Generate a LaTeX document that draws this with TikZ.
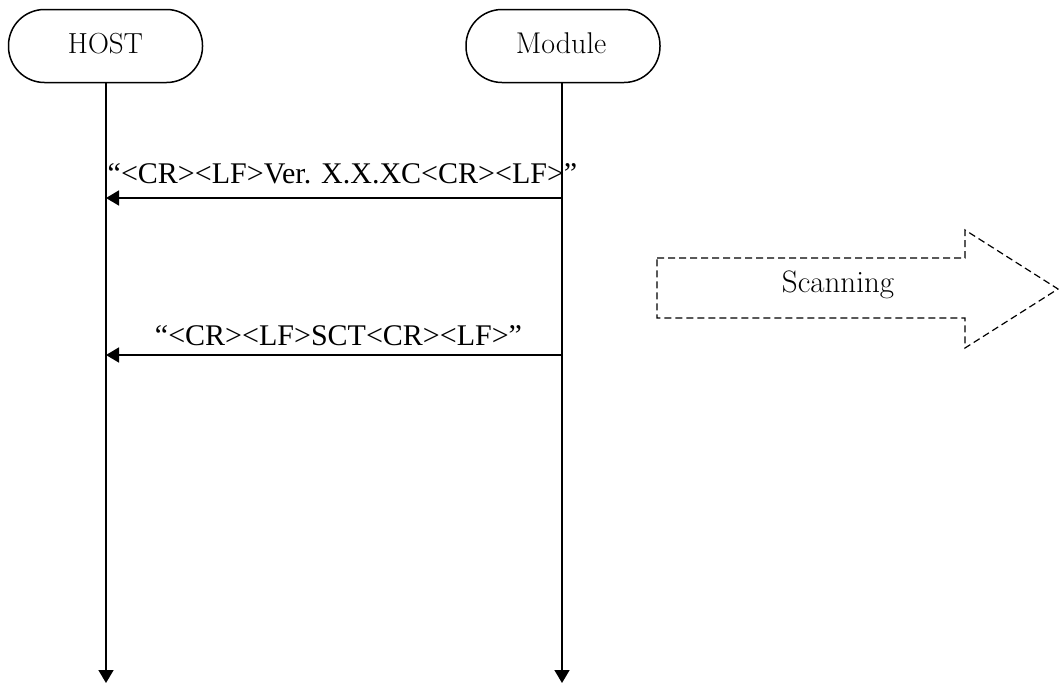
\documentclass[tikz,border=0pt]{standalone}
\usepackage{fontspec}
\newfontfamily\msgfont{Liberation Serif}
\usetikzlibrary{arrows.meta}
\begin{document}
\begin{tikzpicture}[x=1pt,y=-1pt,
  party/.style={draw,line width=1.5pt,rounded corners=36pt,minimum width=194pt,minimum height=73pt,inner sep=0pt},
  lbl/.style={font=\fontsize{30}{35}\selectfont,anchor=base,inner sep=0pt},
  msg/.style={font=\msgfont\fontsize{30}{36}\selectfont,anchor=base,inner sep=0pt},
  life/.style={line width=1.6pt,-{Triangle[length=13pt,width=15pt]}},
  msgarrow/.style={line width=1.6pt,-{Triangle[length=13pt,width=15pt]}},
  scanshape/.style={draw,line width=1.2pt,dash pattern=on 7pt off 4pt}
]
\useasboundingbox (0,0) rectangle (1059,683);
% parties
\node[party] (host) at (105.5,46) {};
\node[lbl,font=\fontsize{29}{34}\selectfont] (hostt) at (105.5,53) {HOST};
\node[party] (mod) at (563,46) {};
\node[lbl] (modt) at (561,53) {Module};
% lifeline end points
\coordinate (hostend) at (106,683);
\coordinate (modend) at (562,683);
\draw[life] (host.south -| hostend) -- (hostend);
\draw[life] (mod.south -| modend) -- (modend);
% messages
\coordinate (m1) at (562,198);
\coordinate (h1) at (106,198);
\draw[msgarrow] (m1) -- (h1);
\node[msg] (t1) at (342.5,183) {“<CR><LF>Ver. X.X.XC<CR><LF>”};
\coordinate (m2) at (562,355);
\coordinate (h2) at (106,355);
\draw[msgarrow] (m2) -- (h2);
\node[msg] (t2) at (338.5,345) {“<CR><LF>SCT<CR><LF>”};
% scanning arrow
\draw[scanshape] (657,258) -- (965,258) -- (965,230) -- (1058,289) -- (965,348) -- (965,318) -- (657,318) -- cycle;
\node[lbl,font=\fontsize{31}{36}\selectfont] (scan) at (838,292) {Scanning};
\end{tikzpicture}
\end{document}
